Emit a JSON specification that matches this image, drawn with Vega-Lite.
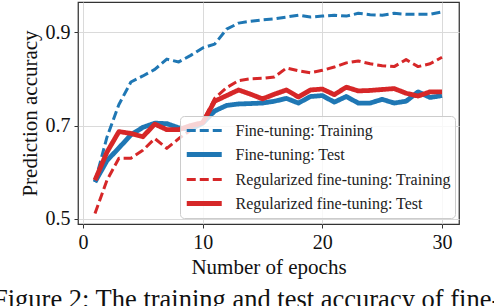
{
  "$schema": "https://vega.github.io/schema/vega-lite/v6.json",
  "width": 381,
  "height": 222,
  "autosize": {"type": "none"},
  "padding": {"left": 78, "top": 2, "right": 35, "bottom": 82},
  "background": "white",
  "title": {
    "text": "Figure 2: The training and test accuracy of fine-tuning",
    "orient": "bottom",
    "anchor": "start",
    "frame": "group",
    "dx": -85,
    "offset": 10,
    "font": "Liberation Serif",
    "fontSize": 26.5,
    "fontWeight": "normal",
    "color": "#111"
  },
  "config": {
    "view": {"stroke": "#333333", "strokeWidth": 1.25},
    "font": "Liberation Serif",
    "axis": {
      "grid": true,
      "gridColor": "#dadada",
      "gridWidth": 1,
      "domain": false,
      "tickColor": "#333333",
      "tickSize": 4,
      "labelFont": "Liberation Serif",
      "labelFontSize": 20,
      "labelColor": "#111",
      "titleFont": "Liberation Serif",
      "titleFontSize": 21,
      "titleFontWeight": "normal",
      "titleColor": "#111"
    },
    "legend": {
      "orient": "none",
      "legendX": 102,
      "legendY": 114,
      "title": null,
      "symbolType": "M-1,0H3",
      "symbolSize": 306,
      "labelFont": "Liberation Serif",
      "labelFontSize": 16,
      "labelColor": "#222",
      "labelOffset": 28.5,
      "labelLimit": 400,
      "fillColor": "rgba(255,255,255,0.8)",
      "strokeColor": "#cccccc",
      "cornerRadius": 4,
      "padding": 4,
      "rowPadding": 4
    }
  },
  "data": {
    "values": [
      {"epoch": 1, "series": "Fine-tuning: Training", "accuracy": 0.579},
      {"epoch": 2, "series": "Fine-tuning: Training", "accuracy": 0.675},
      {"epoch": 3, "series": "Fine-tuning: Training", "accuracy": 0.745},
      {"epoch": 4, "series": "Fine-tuning: Training", "accuracy": 0.793},
      {"epoch": 5, "series": "Fine-tuning: Training", "accuracy": 0.806},
      {"epoch": 6, "series": "Fine-tuning: Training", "accuracy": 0.820},
      {"epoch": 7, "series": "Fine-tuning: Training", "accuracy": 0.842},
      {"epoch": 8, "series": "Fine-tuning: Training", "accuracy": 0.836},
      {"epoch": 9, "series": "Fine-tuning: Training", "accuracy": 0.850},
      {"epoch": 10, "series": "Fine-tuning: Training", "accuracy": 0.866},
      {"epoch": 11, "series": "Fine-tuning: Training", "accuracy": 0.874},
      {"epoch": 12, "series": "Fine-tuning: Training", "accuracy": 0.906},
      {"epoch": 13, "series": "Fine-tuning: Training", "accuracy": 0.919},
      {"epoch": 14, "series": "Fine-tuning: Training", "accuracy": 0.923},
      {"epoch": 15, "series": "Fine-tuning: Training", "accuracy": 0.926},
      {"epoch": 16, "series": "Fine-tuning: Training", "accuracy": 0.928},
      {"epoch": 17, "series": "Fine-tuning: Training", "accuracy": 0.932},
      {"epoch": 18, "series": "Fine-tuning: Training", "accuracy": 0.936},
      {"epoch": 19, "series": "Fine-tuning: Training", "accuracy": 0.932},
      {"epoch": 20, "series": "Fine-tuning: Training", "accuracy": 0.934},
      {"epoch": 21, "series": "Fine-tuning: Training", "accuracy": 0.936},
      {"epoch": 22, "series": "Fine-tuning: Training", "accuracy": 0.934},
      {"epoch": 23, "series": "Fine-tuning: Training", "accuracy": 0.940},
      {"epoch": 24, "series": "Fine-tuning: Training", "accuracy": 0.937},
      {"epoch": 25, "series": "Fine-tuning: Training", "accuracy": 0.936},
      {"epoch": 26, "series": "Fine-tuning: Training", "accuracy": 0.940},
      {"epoch": 27, "series": "Fine-tuning: Training", "accuracy": 0.938},
      {"epoch": 28, "series": "Fine-tuning: Training", "accuracy": 0.938},
      {"epoch": 29, "series": "Fine-tuning: Training", "accuracy": 0.938},
      {"epoch": 30, "series": "Fine-tuning: Training", "accuracy": 0.943},
      {"epoch": 1, "series": "Fine-tuning: Test", "accuracy": 0.579},
      {"epoch": 2, "series": "Fine-tuning: Test", "accuracy": 0.625},
      {"epoch": 3, "series": "Fine-tuning: Test", "accuracy": 0.652},
      {"epoch": 4, "series": "Fine-tuning: Test", "accuracy": 0.680},
      {"epoch": 5, "series": "Fine-tuning: Test", "accuracy": 0.696},
      {"epoch": 6, "series": "Fine-tuning: Test", "accuracy": 0.705},
      {"epoch": 7, "series": "Fine-tuning: Test", "accuracy": 0.704},
      {"epoch": 8, "series": "Fine-tuning: Test", "accuracy": 0.695},
      {"epoch": 9, "series": "Fine-tuning: Test", "accuracy": 0.692},
      {"epoch": 10, "series": "Fine-tuning: Test", "accuracy": 0.705},
      {"epoch": 11, "series": "Fine-tuning: Test", "accuracy": 0.731},
      {"epoch": 12, "series": "Fine-tuning: Test", "accuracy": 0.743},
      {"epoch": 13, "series": "Fine-tuning: Test", "accuracy": 0.746},
      {"epoch": 14, "series": "Fine-tuning: Test", "accuracy": 0.747},
      {"epoch": 15, "series": "Fine-tuning: Test", "accuracy": 0.748},
      {"epoch": 16, "series": "Fine-tuning: Test", "accuracy": 0.752},
      {"epoch": 17, "series": "Fine-tuning: Test", "accuracy": 0.758},
      {"epoch": 18, "series": "Fine-tuning: Test", "accuracy": 0.748},
      {"epoch": 19, "series": "Fine-tuning: Test", "accuracy": 0.762},
      {"epoch": 20, "series": "Fine-tuning: Test", "accuracy": 0.764},
      {"epoch": 21, "series": "Fine-tuning: Test", "accuracy": 0.750},
      {"epoch": 22, "series": "Fine-tuning: Test", "accuracy": 0.762},
      {"epoch": 23, "series": "Fine-tuning: Test", "accuracy": 0.748},
      {"epoch": 24, "series": "Fine-tuning: Test", "accuracy": 0.748},
      {"epoch": 25, "series": "Fine-tuning: Test", "accuracy": 0.756},
      {"epoch": 26, "series": "Fine-tuning: Test", "accuracy": 0.748},
      {"epoch": 27, "series": "Fine-tuning: Test", "accuracy": 0.752},
      {"epoch": 28, "series": "Fine-tuning: Test", "accuracy": 0.772},
      {"epoch": 29, "series": "Fine-tuning: Test", "accuracy": 0.760},
      {"epoch": 30, "series": "Fine-tuning: Test", "accuracy": 0.764},
      {"epoch": 1, "series": "Regularized fine-tuning: Training", "accuracy": 0.512},
      {"epoch": 2, "series": "Regularized fine-tuning: Training", "accuracy": 0.583},
      {"epoch": 3, "series": "Regularized fine-tuning: Training", "accuracy": 0.630},
      {"epoch": 4, "series": "Regularized fine-tuning: Training", "accuracy": 0.630},
      {"epoch": 5, "series": "Regularized fine-tuning: Training", "accuracy": 0.647},
      {"epoch": 6, "series": "Regularized fine-tuning: Training", "accuracy": 0.672},
      {"epoch": 7, "series": "Regularized fine-tuning: Training", "accuracy": 0.651},
      {"epoch": 8, "series": "Regularized fine-tuning: Training", "accuracy": 0.672},
      {"epoch": 9, "series": "Regularized fine-tuning: Training", "accuracy": 0.690},
      {"epoch": 10, "series": "Regularized fine-tuning: Training", "accuracy": 0.708},
      {"epoch": 11, "series": "Regularized fine-tuning: Training", "accuracy": 0.758},
      {"epoch": 12, "series": "Regularized fine-tuning: Training", "accuracy": 0.781},
      {"epoch": 13, "series": "Regularized fine-tuning: Training", "accuracy": 0.796},
      {"epoch": 14, "series": "Regularized fine-tuning: Training", "accuracy": 0.800},
      {"epoch": 15, "series": "Regularized fine-tuning: Training", "accuracy": 0.801},
      {"epoch": 16, "series": "Regularized fine-tuning: Training", "accuracy": 0.804},
      {"epoch": 17, "series": "Regularized fine-tuning: Training", "accuracy": 0.823},
      {"epoch": 18, "series": "Regularized fine-tuning: Training", "accuracy": 0.817},
      {"epoch": 19, "series": "Regularized fine-tuning: Training", "accuracy": 0.813},
      {"epoch": 20, "series": "Regularized fine-tuning: Training", "accuracy": 0.818},
      {"epoch": 21, "series": "Regularized fine-tuning: Training", "accuracy": 0.825},
      {"epoch": 22, "series": "Regularized fine-tuning: Training", "accuracy": 0.834},
      {"epoch": 23, "series": "Regularized fine-tuning: Training", "accuracy": 0.838},
      {"epoch": 24, "series": "Regularized fine-tuning: Training", "accuracy": 0.832},
      {"epoch": 25, "series": "Regularized fine-tuning: Training", "accuracy": 0.828},
      {"epoch": 26, "series": "Regularized fine-tuning: Training", "accuracy": 0.826},
      {"epoch": 27, "series": "Regularized fine-tuning: Training", "accuracy": 0.841},
      {"epoch": 28, "series": "Regularized fine-tuning: Training", "accuracy": 0.826},
      {"epoch": 29, "series": "Regularized fine-tuning: Training", "accuracy": 0.832},
      {"epoch": 30, "series": "Regularized fine-tuning: Training", "accuracy": 0.846},
      {"epoch": 1, "series": "Regularized fine-tuning: Test", "accuracy": 0.583},
      {"epoch": 2, "series": "Regularized fine-tuning: Test", "accuracy": 0.643},
      {"epoch": 3, "series": "Regularized fine-tuning: Test", "accuracy": 0.687},
      {"epoch": 4, "series": "Regularized fine-tuning: Test", "accuracy": 0.683},
      {"epoch": 5, "series": "Regularized fine-tuning: Test", "accuracy": 0.676},
      {"epoch": 6, "series": "Regularized fine-tuning: Test", "accuracy": 0.703},
      {"epoch": 7, "series": "Regularized fine-tuning: Test", "accuracy": 0.691},
      {"epoch": 8, "series": "Regularized fine-tuning: Test", "accuracy": 0.691},
      {"epoch": 9, "series": "Regularized fine-tuning: Test", "accuracy": 0.700},
      {"epoch": 10, "series": "Regularized fine-tuning: Test", "accuracy": 0.706},
      {"epoch": 11, "series": "Regularized fine-tuning: Test", "accuracy": 0.752},
      {"epoch": 12, "series": "Regularized fine-tuning: Test", "accuracy": 0.764},
      {"epoch": 13, "series": "Regularized fine-tuning: Test", "accuracy": 0.776},
      {"epoch": 14, "series": "Regularized fine-tuning: Test", "accuracy": 0.767},
      {"epoch": 15, "series": "Regularized fine-tuning: Test", "accuracy": 0.757},
      {"epoch": 16, "series": "Regularized fine-tuning: Test", "accuracy": 0.767},
      {"epoch": 17, "series": "Regularized fine-tuning: Test", "accuracy": 0.776},
      {"epoch": 18, "series": "Regularized fine-tuning: Test", "accuracy": 0.761},
      {"epoch": 19, "series": "Regularized fine-tuning: Test", "accuracy": 0.776},
      {"epoch": 20, "series": "Regularized fine-tuning: Test", "accuracy": 0.778},
      {"epoch": 21, "series": "Regularized fine-tuning: Test", "accuracy": 0.766},
      {"epoch": 22, "series": "Regularized fine-tuning: Test", "accuracy": 0.782},
      {"epoch": 23, "series": "Regularized fine-tuning: Test", "accuracy": 0.774},
      {"epoch": 24, "series": "Regularized fine-tuning: Test", "accuracy": 0.775},
      {"epoch": 25, "series": "Regularized fine-tuning: Test", "accuracy": 0.777},
      {"epoch": 26, "series": "Regularized fine-tuning: Test", "accuracy": 0.779},
      {"epoch": 27, "series": "Regularized fine-tuning: Test", "accuracy": 0.769},
      {"epoch": 28, "series": "Regularized fine-tuning: Test", "accuracy": 0.763},
      {"epoch": 29, "series": "Regularized fine-tuning: Test", "accuracy": 0.772},
      {"epoch": 30, "series": "Regularized fine-tuning: Test", "accuracy": 0.772}
    ]
  },
  "mark": {"type": "line", "strokeJoin": "round", "clip": false},
  "encoding": {
    "x": {
      "field": "epoch",
      "type": "quantitative",
      "scale": {"domain": [-0.42, 31.42], "nice": false, "zero": false},
      "axis": {"values": [0, 10, 20, 30], "title": "Number of epochs", "labelPadding": 4, "titlePadding": 4}
    },
    "y": {
      "field": "accuracy",
      "type": "quantitative",
      "scale": {"domain": [0.4893, 0.9642], "nice": false, "zero": false},
      "axis": {"values": [0.5, 0.7, 0.9], "format": ".1f", "title": "Prediction accuracy", "labelPadding": 4, "titlePadding": 5}
    },
    "color": {
      "field": "series",
      "type": "nominal",
      "scale": {
        "domain": ["Fine-tuning: Training", "Fine-tuning: Test", "Regularized fine-tuning: Training", "Regularized fine-tuning: Test"],
        "range": ["#1f77b4", "#1f77b4", "#d62728", "#d62728"]
      }
    },
    "strokeDash": {
      "field": "series",
      "type": "nominal",
      "scale": {
        "domain": ["Fine-tuning: Training", "Fine-tuning: Test", "Regularized fine-tuning: Training", "Regularized fine-tuning: Test"],
        "range": [[9, 4], [1, 0], [9, 4], [1, 0]]
      }
    },
    "strokeWidth": {
      "field": "series",
      "type": "nominal",
      "scale": {
        "type": "ordinal",
        "domain": ["Fine-tuning: Training", "Fine-tuning: Test", "Regularized fine-tuning: Training", "Regularized fine-tuning: Test"],
        "range": [3, 4.8, 3, 4.8]
      }
    }
  }
}
